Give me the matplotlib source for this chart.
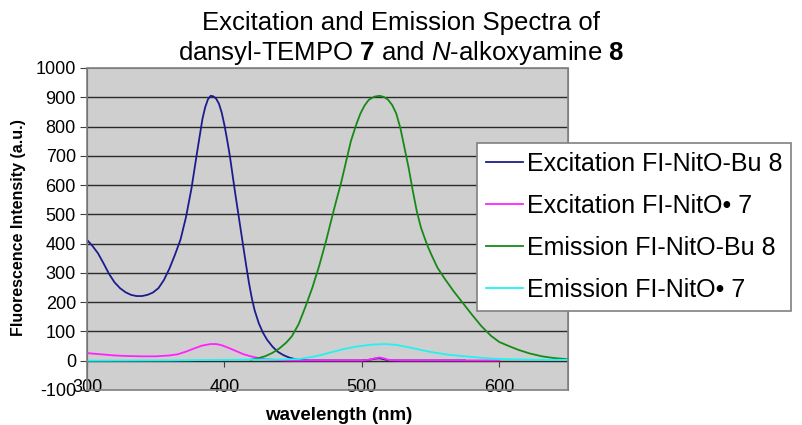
import matplotlib
matplotlib.use('Agg')
from matplotlib import pyplot as plt
from matplotlib.patches import Rectangle

plt.rcParams['font.family'] = ['Liberation Sans', 'DejaVu Sans']
plt.rcParams['mathtext.fontset'] = 'custom'
plt.rcParams['mathtext.rm'] = 'Liberation Sans'
plt.rcParams['mathtext.it'] = 'Liberation Sans:italic'
plt.rcParams['mathtext.bf'] = 'Liberation Sans:bold'
plt.rcParams['axes.unicode_minus'] = False

# Excitation Fl-NitO-Bu 8
exc8_wl = [300, 304, 308, 312, 316, 320, 324, 328, 332, 336, 340, 344, 348, 352,
           356, 360, 364, 368, 372, 376, 380, 384, 386, 388, 390, 392, 394, 396,
           398, 400, 402, 404, 406, 408, 410, 412, 414, 416, 418, 420, 422, 425,
           428, 431, 435, 439, 443, 447, 451, 455, 460, 500, 505, 510, 513, 516,
           520, 575]
exc8_val = [413, 392, 367, 333, 297, 268, 248, 234, 225, 221, 221, 225, 233, 248,
            276, 315, 362, 413, 490, 588, 709, 826, 866, 893, 905, 903, 895, 878,
            848, 805, 754, 698, 632, 567, 505, 443, 381, 320, 262, 212, 172, 128,
            96, 72, 48, 30, 19, 11, 6, 3, 1, 1, 3, 7, 8, 5, 1, 1]

# Excitation Fl-NitO* 7
exc7_wl = [300, 310, 320, 330, 340, 350, 360, 366, 372, 378, 384, 390, 394, 398,
           403, 408, 414, 420, 425, 430, 440, 450, 500, 506, 510, 513, 516, 520,
           530, 600]
exc7_val = [26, 22, 18, 16, 15, 15, 18, 22, 31, 42, 52, 57, 57, 53,
            44, 34, 22, 14, 9, 5, 2, 1, 1, 4, 9, 11, 8, 2,
            1, 1]

# Emission Fl-NitO-Bu 8
em8_wl = [419, 425, 430, 435, 440, 445, 449, 454, 459, 464, 469, 474, 478, 481,
          485, 489, 492, 496, 499, 502, 505, 509, 513, 516, 519, 522, 525, 528,
          531, 534, 537, 540, 543, 546, 548, 551, 555, 560, 567, 573, 580, 587,
          594, 600, 607, 614, 622, 631, 640, 650]
em8_val = [3, 9, 16, 27, 42, 62, 83, 125, 185, 250, 325, 410, 485, 540,
           610, 690, 750, 808, 845, 872, 891, 902, 905, 901, 892, 874, 845, 795,
           728, 660, 582, 510, 455, 415, 390, 358, 318, 282, 236, 200, 158, 118,
           85, 64, 50, 37, 25, 15, 9, 5]

# Emission Fl-NitO* 7
em7_wl = [300, 360, 420, 440, 455, 465, 469, 477, 487, 497, 507, 517, 525, 531,
          540, 550, 562, 575, 587, 599, 620, 650]
em7_val = [0, 1, 4, 4, 6, 14, 18, 28, 40, 49, 55, 57, 54, 49,
           40, 30, 21, 15, 10, 6, 4, 3]

series = [
    (exc8_wl, exc8_val, '#1c1c8e', 'Excitation FI-NitO-Bu 8'),
    (exc7_wl, exc7_val, '#ff22ff', 'Excitation FI-NitO\u2022 7'),
    (em8_wl, em8_val, '#168a16', 'Emission FI-NitO-Bu 8'),
    (em7_wl, em7_val, '#22f2f2', 'Emission FI-NitO\u2022 7'),
]

fig = plt.figure(figsize=(8.02, 4.25), dpi=100)
ax = fig.add_axes([87 / 802, 1 - 390 / 425, 481 / 802, 322 / 425])
ax.set_facecolor('#cfcfcf')

for wl, val, color, label in series:
    ax.plot(wl, val, color=color, linewidth=1.3, label=label, zorder=3)

ax.set_xlim(300, 650)
ax.set_ylim(-100, 1000)
ax.set_yticks(range(-100, 1001, 100))
ax.set_xticks([300, 400, 500, 600])

for yv in range(0, 1000, 100):
    ax.axhline(yv, color='#2a2a2a', linewidth=1.0, zorder=1)

# x axis crosses at zero
ax.spines['bottom'].set_position(('data', 0))
ax.spines['bottom'].set_color('#2a2a2a')
ax.spines['bottom'].set_zorder(1)
for side in ['left', 'right', 'top']:
    ax.spines[side].set_color('#808080')
ax.add_patch(Rectangle((0, 0), 1, 1, transform=ax.transAxes, fill=False,
                       edgecolor='#808080', linewidth=1.2, zorder=4, clip_on=False))
ax.spines['left'].set_color('#404040')

ax.tick_params(axis='y', direction='out', length=5, labelsize=13, color='#404040', pad=3)
ax.tick_params(axis='x', direction='out', length=4, labelsize=13, color='#404040', pad=9)

ax.set_ylabel('Fluorescence Intensity (a.u.)', fontsize=11.5, fontweight='bold')
ax.yaxis.set_label_coords(26 / 802, 1 - 228 / 425, transform=fig.transFigure)
fig.text(339 / 802, 1 - 415 / 425, 'wavelength (nm)', fontsize=13.5, fontweight='bold',
         ha='center', va='center')

fig.text(0.5, 1 - 23 / 425, 'Excitation and Emission Spectra of', fontsize=18.5,
         ha='center', va='center')
fig.text(0.5, 1 - 53 / 425, r'dansyl-TEMPO $\mathbf{7}$ and $\mathit{N}$-alkoxyamine $\mathbf{8}$',
         fontsize=18.5, ha='center', va='center')

leg = ax.legend(loc='upper left', bbox_to_anchor=(477 / 802, 1 - 143 / 425),
                bbox_transform=fig.transFigure, fontsize=18, frameon=True,
                fancybox=False, framealpha=1, edgecolor='#808080',
                handlelength=1.5, handletextpad=0.15, labelspacing=0.72,
                borderpad=0.35, borderaxespad=0)
leg.get_frame().set_linewidth(1.2)

fig.savefig('out.png', dpi=100)
